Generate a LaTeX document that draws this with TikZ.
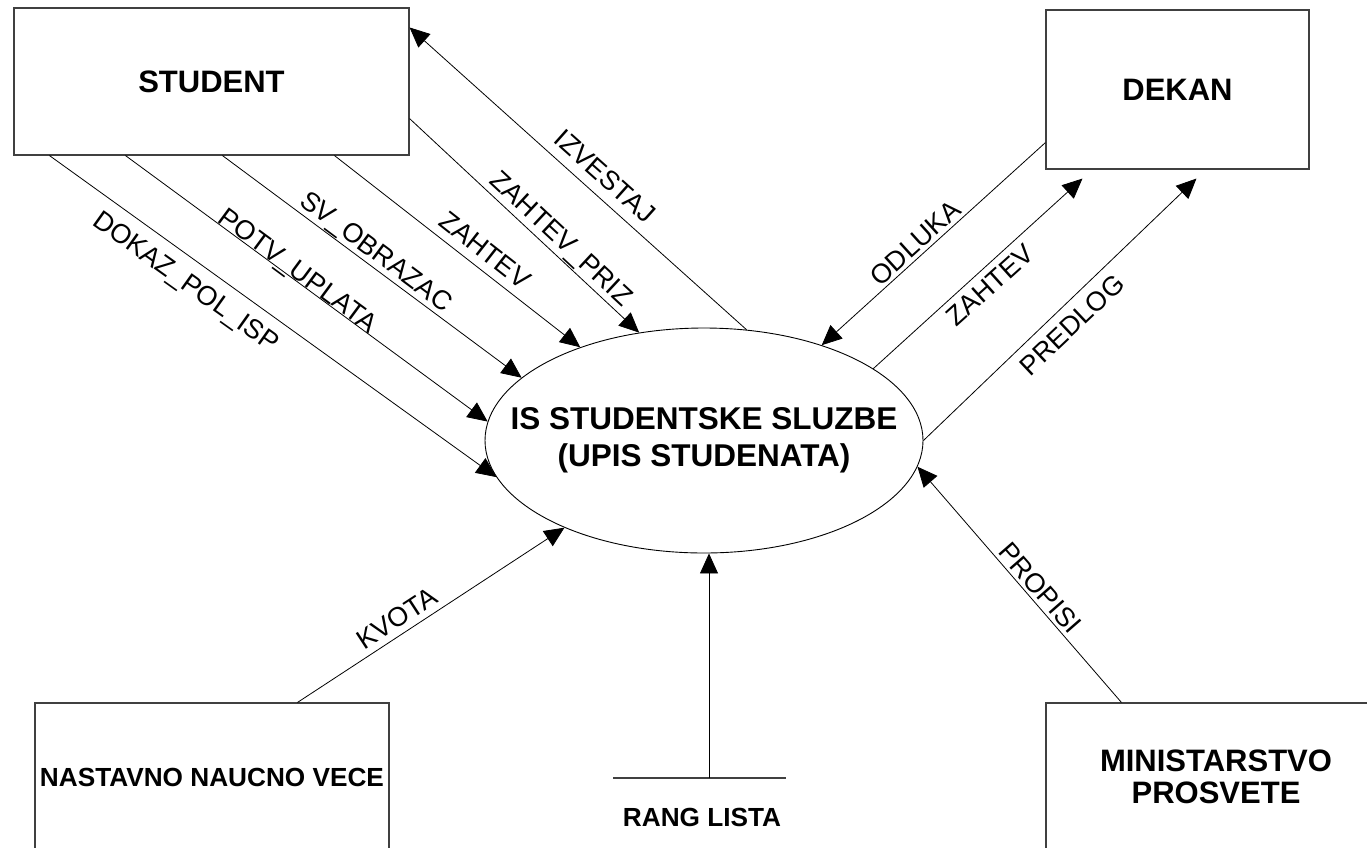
\documentclass[tikz,border=0pt]{standalone}
\usepackage{fontspec}
\setmainfont{Liberation Sans}
\usetikzlibrary{arrows.meta,shapes.geometric,calc}

\begin{document}
\begin{tikzpicture}[x=1pt,y=-1pt,
  entity/.style={draw=black!75, line width=1.1pt, rectangle, inner sep=0pt,
    font=\bfseries\fontsize{31}{32}\selectfont, align=center},
  process/.style={draw=black, line width=0.9pt, ellipse, inner sep=0pt},
  bigtext/.style={font=\bfseries\fontsize{31.5}{37.5}\selectfont, align=center, inner sep=0pt},
  flow/.style={draw=black, line width=0.8pt, -{Triangle[length=20pt,width=18pt]}},
  plain/.style={draw=black, line width=0.8pt},
  storeline/.style={draw=black!75, line width=1.1pt},
  flowlabel/.style={font=\fontsize{27}{27}\selectfont, inner sep=0pt, anchor=center}
]
% canvas
\fill[white] (0,0) rectangle (1367,847);
\useasboundingbox (0,0) rectangle (1367,847);

% external entities
\node[entity, minimum width=395pt, minimum height=147pt] (stu) at (211.5,81.5) {STUDENT};
\node[entity, minimum width=263pt, minimum height=159pt] (dek) at (1177.5,89.5) {DEKAN};
\node[entity, minimum width=354pt, minimum height=148pt,
      font=\bfseries\fontsize{26.2}{30}\selectfont] (nnv) at (212,777) {NASTAVNO NAUCNO VECE};
\node[entity, minimum width=340pt, minimum height=148pt] (min) at (1216,777) {MINISTARSTVO\\PROSVETE};

% central process
\node[process, minimum width=438pt, minimum height=225pt] (is) at (704,440.5) {};
\node[bigtext] (istxt) at (is.center) {IS STUDENTSKE SLUZBE\\(UPIS STUDENATA)};

% data store
\coordinate (rl) at (709,778);
\draw[storeline] ([xshift=-96pt]rl) -- ([xshift=77pt]rl);
\node[bigtext, font=\bfseries\fontsize{26.2}{30}\selectfont] (rltxt) at (702,817) {RANG LISTA};

% flows from STUDENT
\draw[flow] ([xshift=36pt]stu.south west) -- (is.190.4);
\draw[flow] ([xshift=112pt]stu.south west) -- (is.175.4);
\draw[flow] ([xshift=209pt]stu.south west) -- (is.161.6);
\draw[flow] ([xshift=321pt]stu.south west) -- (is.143.6);
\draw[flow] ([yshift=37pt]stu.south east) -- (is.121.5);
\draw[flow] (is.69) -- ([yshift=-20pt]stu.north east);

% flows with DEKAN
\draw[flow] ([yshift=27pt]dek.south west) -- (is.39);
\draw[flow] (is.23.8) -- ([xshift=37pt,yshift=-9pt]dek.south west);
\draw[flow] (is.0.5) -- ([xshift=151pt,yshift=-9pt]dek.south west);

% remaining inputs
\draw[flow] ([xshift=263pt]nnv.north west) -- (is.212.4);
\draw[flow] ([xshift=76pt]min.north west) -- (is.-7.4);
\draw[flow] (rl) -- (rl |- is.south);

% flow labels
\node[flowlabel, rotate=-35.5] (l1) at (185,283) {DOKAZ\_POL\_ISP};
\node[flowlabel, rotate=-36.5] (l2) at (297,272) {POTV\_UPLATA};
\node[flowlabel, rotate=-36.7] (l3) at (375,253) {SV\_OBRAZAC};
\node[flowlabel, rotate=-38.1] (l4) at (485,250) {ZAHTEV};
\node[flowlabel, rotate=-43] (l5) at (560,240) {ZAHTEV\_PRIZ};
\node[flowlabel, rotate=-41.7] (l6) at (605,176) {IZVESTAJ};
\node[flowlabel, rotate=42.1] (l7) at (915,243) {ODLUKA};
\node[flowlabel, rotate=42] (l8) at (990,285) {ZAHTEV};
\node[flowlabel, rotate=43.4] (l9) at (1072,325) {PREDLOG};
\node[flowlabel, rotate=33.1] (l10) at (397,618) {KVOTA};
\node[flowlabel, rotate=-48.9] (l11) at (1040,588) {PROPISI};
\end{tikzpicture}
\end{document}
